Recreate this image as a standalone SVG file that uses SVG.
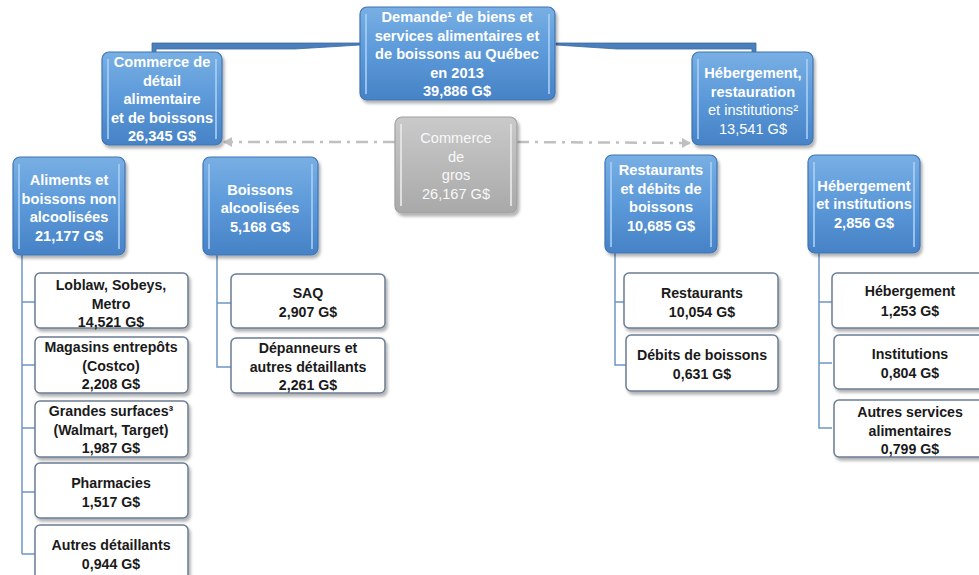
<svg xmlns="http://www.w3.org/2000/svg" width="979" height="575" viewBox="0 0 979 575">
<defs>
<linearGradient id="gb" x1="0" y1="0" x2="0" y2="1">
<stop offset="0" stop-color="#78afe4"/>
<stop offset="0.5" stop-color="#5c99d9"/>
<stop offset="1" stop-color="#4682c6"/>
</linearGradient>
<linearGradient id="gg" x1="0" y1="0" x2="0" y2="1">
<stop offset="0" stop-color="#cacaca"/>
<stop offset="1" stop-color="#a9a9a9"/>
</linearGradient>
<filter id="sh" x="-10%" y="-10%" width="125%" height="125%">
<feDropShadow dx="2" dy="3" stdDeviation="1.5" flood-color="#000" flood-opacity="0.3"/>
</filter>
<marker id="ah" markerWidth="10" markerHeight="10" refX="8" refY="5" orient="auto" markerUnits="userSpaceOnUse">
<path d="M0,0 L9,5 L0,10 Z" fill="#c0c0c0"/>
</marker>
<style>
.bb{fill:url(#gb);stroke:#3f74b3;stroke-width:1.2;filter:url(#sh)}
.gb{fill:url(#gg);stroke:#a0a0a0;stroke-width:1.2;filter:url(#sh)}
.bev{fill:none;stroke:#a9d0f5;stroke-width:2;opacity:0.8}
.gbev{fill:none;stroke:#e6e6e6;stroke-width:2;opacity:0.9}
.lf{fill:#ffffff;stroke:#6a7c93;stroke-width:1.5;filter:url(#sh)}
.wt{font-family:"Liberation Sans",Arial,sans-serif;font-size:14.6px;font-weight:bold;fill:#ffffff;text-anchor:middle}
.wn{font-weight:normal}
.gt{font-family:"Liberation Sans",Arial,sans-serif;font-size:14.6px;fill:#f8f8f8;text-anchor:middle}
.kt{font-family:"Liberation Sans",Arial,sans-serif;font-size:14.2px;font-weight:bold;fill:#1a1a1a;text-anchor:middle}
.ln{fill:none;stroke:#6d96c6;stroke-width:1.5}
.dd{fill:none;stroke:#c0c0c0;stroke-width:2.5;stroke-dasharray:12,6,3,6}
.wg{fill:#4a7fbb;stroke:#3a6aa3;stroke-width:0.8}
</style>
</defs>
<g id="connectors">
<polygon class="wg" points="152,43 360,43 360,45 295,49 156,49 156,53 152,53"/>
<polygon class="wg" points="556,43 756,43 756,53 752,53 752,49 617,49 556,45"/>
<path class="dd" d="M395,142 L224,142" marker-end="url(#ah)"/>
<path class="dd" d="M517,142 L690,143" marker-end="url(#ah)"/>
<path class="ln" d="M22,255 V554 M22,302 H35 M22,365 H35 M22,428 H35 M22,492 H35 M22,554 H35"/>
<path class="ln" d="M217,255 V367 H231 M217,303 H231"/>
<path class="ln" d="M615,253 V365 H626 M615,302 H624"/>
<path class="ln" d="M819,253 V428 H832 M819,302 H832 M819,363 H832"/>
</g>
<g id="n-top">
<rect class="bb" x="360" y="7" width="195" height="93" rx="7"/>
<path class="bev" d="M366,14 V94 M549,14 V94"/>
<text class="wt" x="457" y="22">Demande¹ de biens et</text>
<text class="wt" x="457" y="40.5">services alimentaires et</text>
<text class="wt" x="457" y="59">de boissons au Québec</text>
<text class="wt" x="457" y="77.5">en 2013</text>
<text class="wt" x="457" y="96">39,886 G$</text>
</g>
<g id="n-detail">
<rect class="bb" x="102" y="52" width="120" height="93" rx="7"/>
<path class="bev" d="M108,59 V139 M216,59 V139"/>
<text class="wt" x="162" y="67">Commerce de</text>
<text class="wt" x="162" y="85.5">détail</text>
<text class="wt" x="162" y="104">alimentaire</text>
<text class="wt" x="162" y="122.5">et de boissons</text>
<text class="wt" x="162" y="141">26,345 G$</text>
</g>
<g id="n-gros">
<rect class="gb" x="395" y="117" width="122" height="96" rx="7"/>
<path class="gbev" d="M401,124 V206 M511,124 V206"/>
<text class="gt" x="456" y="143">Commerce</text>
<text class="gt" x="456" y="161.5">de</text>
<text class="gt" x="456" y="180">gros</text>
<text class="gt" x="456" y="198.5">26,167 G$</text>
</g>
<g id="n-hrest">
<rect class="bb" x="692" y="52" width="121" height="93" rx="7"/>
<path class="bev" d="M698,59 V139 M807,59 V139"/>
<text class="wt" x="753" y="78">Hébergement,</text>
<text class="wt" x="753" y="96.5">restauration</text>
<text class="wt wn" x="753" y="115">et institutions²</text>
<text class="wt wn" x="753" y="133.5">13,541 G$</text>
</g>
<g id="n-aliments">
<rect class="bb" x="13" y="157" width="112" height="98" rx="7"/>
<path class="bev" d="M19,164 V249 M119,164 V249"/>
<text class="wt" x="69" y="185">Aliments et</text>
<text class="wt" x="69" y="203.5">boissons non</text>
<text class="wt" x="69" y="222">alcoolisées</text>
<text class="wt" x="69" y="240.5">21,177 G$</text>
</g>
<g id="n-alcool">
<rect class="bb" x="203" y="157" width="115" height="98" rx="7"/>
<path class="bev" d="M209,164 V249 M312,164 V249"/>
<text class="wt" x="260" y="194.5">Boissons</text>
<text class="wt" x="260" y="213">alcoolisées</text>
<text class="wt" x="260" y="231.5">5,168 G$</text>
</g>
<g id="n-restos">
<rect class="bb" x="605" y="155" width="112" height="98" rx="7"/>
<path class="bev" d="M611,162 V247 M711,162 V247"/>
<text class="wt" x="661" y="175">Restaurants</text>
<text class="wt" x="661" y="193.5">et débits de</text>
<text class="wt" x="661" y="212">boissons</text>
<text class="wt" x="661" y="230.5">10,685 G$</text>
</g>
<g id="n-hebinst">
<rect class="bb" x="808" y="155" width="112" height="98" rx="7"/>
<path class="bev" d="M814,162 V247 M914,162 V247"/>
<text class="wt" x="864" y="190.5">Hébergement</text>
<text class="wt" x="864" y="209">et institutions</text>
<text class="wt" x="864" y="227.5">2,856 G$</text>
</g>
<g id="n-loblaw">
<rect class="lf" x="35" y="273" width="153" height="55" rx="5"/>
<text class="kt" x="111" y="290">Loblaw, Sobeys,</text>
<text class="kt" x="111" y="308.5">Metro</text>
<text class="kt" x="111" y="327">14,521 G$</text>
</g>
<g id="n-magasins">
<rect class="lf" x="35" y="337" width="153" height="56" rx="5"/>
<text class="kt" x="111" y="352">Magasins entrepôts</text>
<text class="kt" x="111" y="370.5">(Costco)</text>
<text class="kt" x="111" y="389">2,208 G$</text>
</g>
<g id="n-grandes">
<rect class="lf" x="35" y="401" width="153" height="56" rx="5"/>
<text class="kt" x="111" y="416">Grandes surfaces³</text>
<text class="kt" x="111" y="434.5">(Walmart, Target)</text>
<text class="kt" x="111" y="453">1,987 G$</text>
</g>
<g id="n-pharma">
<rect class="lf" x="35" y="463" width="153" height="55" rx="5"/>
<text class="kt" x="111" y="488">Pharmacies</text>
<text class="kt" x="111" y="506.5">1,517 G$</text>
</g>
<g id="n-autresdet">
<rect class="lf" x="35" y="525" width="153" height="60" rx="5"/>
<text class="kt" x="111" y="550">Autres détaillants</text>
<text class="kt" x="111" y="568.5">0,944 G$</text>
</g>
<g id="n-saq">
<rect class="lf" x="231" y="274" width="154" height="54" rx="5"/>
<text class="kt" x="308" y="298">SAQ</text>
<text class="kt" x="308" y="316.5">2,907 G$</text>
</g>
<g id="n-depanneurs">
<rect class="lf" x="231" y="338" width="154" height="55" rx="5"/>
<text class="kt" x="308" y="353">Dépanneurs et</text>
<text class="kt" x="308" y="371.5">autres détaillants</text>
<text class="kt" x="308" y="390">2,261 G$</text>
</g>
<g id="n-restaurants">
<rect class="lf" x="624" y="273" width="154" height="55" rx="5"/>
<text class="kt" x="702" y="298">Restaurants</text>
<text class="kt" x="702" y="316.5">10,054 G$</text>
</g>
<g id="n-debits">
<rect class="lf" x="626" y="335" width="152" height="56" rx="5"/>
<text class="kt" x="702" y="360">Débits de boissons</text>
<text class="kt" x="702" y="378.5">0,631 G$</text>
</g>
<g id="n-heb">
<rect class="lf" x="832" y="273" width="160" height="55" rx="5"/>
<text class="kt" x="910" y="296">Hébergement</text>
<text class="kt" x="910" y="315.5">1,253 G$</text>
</g>
<g id="n-institutions">
<rect class="lf" x="834" y="335" width="158" height="54" rx="5"/>
<text class="kt" x="910" y="359">Institutions</text>
<text class="kt" x="910" y="377.5">0,804 G$</text>
</g>
<g id="n-autresserv">
<rect class="lf" x="834" y="400" width="158" height="57" rx="5"/>
<text class="kt" x="910" y="417">Autres services</text>
<text class="kt" x="910" y="435.5">alimentaires</text>
<text class="kt" x="910" y="454">0,799 G$</text>
</g>
</svg>
